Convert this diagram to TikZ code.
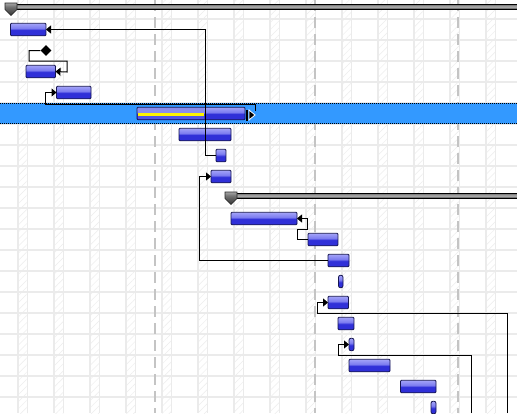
\documentclass[tikz,border=0pt]{standalone}
\usetikzlibrary{arrows.meta,patterns.meta,shapes.geometric}
\definecolor{gridc}{HTML}{EBEBEB}
\definecolor{hatchc}{HTML}{EDEDED}
\definecolor{dashc}{HTML}{C4C4C4}
\definecolor{selc}{HTML}{3399FF}
\definecolor{bdark}{HTML}{3030D8}
\definecolor{bmid}{HTML}{4646E6}
\definecolor{blight}{HTML}{A4A4F8}
\definecolor{blight2}{HTML}{7C7CF0}
\definecolor{bedge}{HTML}{161650}
\definecolor{pone}{HTML}{5454E2}
\definecolor{ptwo}{HTML}{8C8CEC}
\pgfdeclareverticalshading{barshade}{100bp}{color(0bp)=(bmid); color(25bp)=(bmid); color(30bp)=(bdark); color(48bp)=(bdark); color(55bp)=(blight2); color(75bp)=(blight); color(100bp)=(blight)}
\pgfdeclareverticalshading{sumshade}{100bp}{color(0bp)=(black!80); color(25bp)=(black!80); color(50bp)=(black!30); color(75bp)=(black!60); color(100bp)=(black!60)}
\pgfdeclareverticalshading{capshade}{100bp}{color(0bp)=(black!80); color(25bp)=(black!80); color(60bp)=(black!55); color(75bp)=(black!35); color(100bp)=(black!35)}
\newcommand\ganttbar[4]{\node[gbar,minimum width={#3-(#2)}] (#1) at (#2,{21*#4+8.5}) {};}
\newcommand\gantttiny[4]{\node[gbar,rounded corners=2pt,minimum width={#3-(#2)}] (#1) at (#2,{21*#4+8.5}) {};}
\begin{document}
\begin{tikzpicture}[x=1pt,y=-1pt,
  gbar/.style={draw=bedge, line width=0.8pt, shade, shading=barshade, rounded corners=1pt,
    minimum height=12.5pt, inner sep=0pt, outer sep=0pt, anchor=west},
  conn/.style={draw=black, line width=1pt},
  arr/.style={conn, -{Triangle[length=5pt,width=8pt]}},
  gridline/.style={gridc, line width=1.2pt},
  dashline/.style={dashc, line width=1.5pt, dash pattern=on 11pt off 6pt}]
\useasboundingbox (0,0) rectangle (517,413);
\fill[white] (0,0) rectangle (517,413);
% weekend bands
\foreach \k in {0,...,13} {
  \fill[pattern={Lines[angle=45,distance=5pt,line width=0.5pt]}, pattern color=hatchc]
    ({18+36*\k},0) rectangle ({27.3+36*\k},413);
  \draw[gridline] ({18+36*\k},0) -- ({18+36*\k},413);
  \draw[gridline] ({27.3+36*\k},0) -- ({27.3+36*\k},413);
}
\foreach \k in {0,...,18} \draw[gridline] (0,{19+21*\k}) -- (517,{19+21*\k});
\foreach \x in {155,315,458} \draw[dashline] (\x,0) -- (\x,413);
% selected row
\fill[selc] (0,103) rectangle (517,124);
\draw[black, line width=0.8pt, dash pattern=on 1pt off 1pt] (0,103.5) -- (517,103.5) (0,123.5) -- (517,123.5);
% summary bars
\shadedraw[shading=sumshade, draw=black, line width=0.8pt] (5,4) rectangle (517,9.5);
\shadedraw[shading=capshade, draw=black!85, line width=0.6pt] (5,3) -- (17,3) -- (17,9.5) -- (11,15.5) -- (5,9.5) -- cycle;
\shadedraw[shading=sumshade, draw=black, line width=0.8pt] (225,193) rectangle (517,198.5);
\shadedraw[shading=capshade, draw=black!85, line width=0.6pt] (225,192) -- (237,192) -- (237,198.5) -- (231,204.5) -- (225,198.5) -- cycle;
% task bars
\ganttbar{r1}{10.5}{46}{1}
\node[diamond, fill=black, minimum size=11pt, inner sep=0pt] (ms) at (46,50.5) {};
\ganttbar{r3}{26}{55.5}{3}
\ganttbar{r4}{56.5}{91}{4}
\ganttbar{r5}{137}{245}{5}
\fill[ptwo] (137.5,107.7) rectangle (204,113);
\fill[pone] (137.5,116.2) rectangle (204,119.3);
\fill[yellow] (137.5,113) rectangle (204,116.2);
\ganttbar{r6}{179}{231}{6}
\ganttbar{r7}{216}{226}{7}
\ganttbar{r8}{211}{231}{8}
\ganttbar{r10}{231}{297}{10}
\ganttbar{r11}{308}{338}{11}
\ganttbar{r12}{328}{349}{12}
\gantttiny{r13}{338.5}{343}{13}
\ganttbar{r14}{328}{348.5}{14}
\ganttbar{r15}{338}{354}{15}
\gantttiny{r16}{349}{354}{16}
\ganttbar{r17}{349}{390}{17}
\ganttbar{r18}{400.5}{436}{18}
\gantttiny{r19}{431}{436}{19}
% end handle of selected bar
\draw[white, line width=2.8pt] (247,109.5) -- (247,120.5);
\draw[black, line width=1.2pt] (247,109.5) -- (247,120.5);
\filldraw[fill=black, draw=white, line width=0.8pt] (249,110) -- (255,115) -- (249,120) -- cycle;
\coordinate (r5h) at (255,111);
\coordinate (c6) at (507,413);
\coordinate (c7) at (471,413);
% connectors
\draw[arr] (r7.west) -- ++(-11,0) |- (r1.east);
\draw[arr] (ms.west) -| (29,61) -| (67,72) -- (r3.east);
\draw[arr] (r5h) -- (255,104) -- (45,104) |- (r4.west);
\draw[arr] (r12.west) -- ++(-129,0) |- (r8.west);
\draw[arr] (r11.west) -- ++(-11,0) -- ++(0,-10) -- ++(10,0) |- (r10.east);
\draw[arr] (c6) |- (317,313) |- (r14.west);
\draw[arr] (c7) |- (338,355) |- (r16.west);
\end{tikzpicture}
\end{document}
